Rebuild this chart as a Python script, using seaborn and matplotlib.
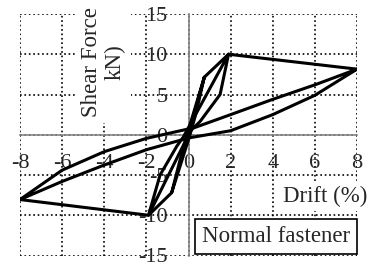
import numpy as np
import pandas as pd
import seaborn as sns
import matplotlib
matplotlib.use("Agg")
import matplotlib.pyplot as plt

# hysteresis branches (drift %, shear force kN)
cycle1_x = [0, 0.75, 0.35, 0.05, -0.8, -0.35, -0.05, 0.75]
cycle1_y = [0, 7.15, 2.6, -0.2, -7.2, -2.6, 0.2, 7.15]

cycle2_x = [0.75, 1.9, 1.5, 0.55, 0.1, -1.9, -1.35, -0.55, -0.25, 1.9]
cycle2_y = [7.15, 10, 5.0, 1.65, 0.5, -10, -5.0, -1.4, -0.3, 10]

neg_env_x = [-0.8, -1.9, -8]
neg_env_y = [-7.2, -10, -8.05]

cycle8_x = [1.9, 8, 6, 4, 2, 0.3, -2, -4, -6, -8, -6, -4, -2, 0, 2, 4, 6, 8]
cycle8_y = [10, 8.15, 6.2, 4.4, 2.5, 0.9, -0.45, -2.1, -4.4, -8.05,
            -5.8, -3.76, -1.86, -0.4, 0.5, 2.5, 4.9, 8.15]

x_ticks = [-8, -6, -4, -2, 0, 2, 4, 6, 8]
y_ticks = [-15, -10, -5, 0, 5, 10, 15]

branches = [(cycle1_x, cycle1_y), (cycle2_x, cycle2_y),
            (neg_env_x, neg_env_y), (cycle8_x, cycle8_y)]
rows = []
for b, (xs, ys) in enumerate(branches):
    for i, (xv, yv) in enumerate(zip(xs, ys)):
        rows.append({"branch": b, "order": i, "drift": xv, "force": yv})
df = pd.DataFrame(rows)

sns.set_style("white")
plt.rcParams["font.family"] = ["Liberation Serif", "DejaVu Serif"]

fig = plt.figure(figsize=(3.72, 2.64), dpi=100)
ax = fig.add_axes([20 / 372, 8.5 / 264, 337 / 372, 241.5 / 264])

sns.lineplot(data=df, x="drift", y="force", units="branch", estimator=None,
             sort=False, color="black", linewidth=2.2, ax=ax, zorder=3)

ax.set_xlim(-8, 8)
ax.set_ylim(-15, 15)
ax.set_xticks(x_ticks)
ax.set_yticks(y_ticks)
ax.set_xticklabels([str(v) for v in x_ticks])
ax.set_yticklabels([str(v) for v in y_ticks])
ax.set_xlabel("")
ax.set_ylabel("")

ax.grid(True, color="black", linestyle=":", linewidth=1.2)
for gl in ax.get_xgridlines() + ax.get_ygridlines():
    gl.set_clip_on(False)

for s in ["top", "right"]:
    ax.spines[s].set_visible(False)
ax.spines["left"].set_position(("data", 0))
ax.spines["bottom"].set_position(("data", 0))
for s in ["left", "bottom"]:
    ax.spines[s].set_color("#888888")
    ax.spines[s].set_linewidth(1.2)
    ax.spines[s].set_zorder(2.5)

ax.tick_params(axis="both", length=0, labelsize=16)
ax.tick_params(axis="y", pad=15)
ax.tick_params(axis="x", pad=14)

ax.text(-4.06, 9.0, "Shear Force\nkN)", rotation=90, ha="center", va="center",
        fontsize=16.5, linespacing=1.15, zorder=4,
        bbox=dict(facecolor="white", edgecolor="none", pad=4))
ax.text(6.48, -7.68, "Drift (%)", ha="center", va="center", fontsize=16.5,
        zorder=4, clip_on=False,
        bbox=dict(facecolor="white", edgecolor="none", pad=3))
ax.text(4.15, -12.6, "Normal fastener", ha="center", va="center",
        fontsize=16.5, zorder=5,
        bbox=dict(boxstyle="square,pad=0.3", facecolor="white",
                  edgecolor="black", linewidth=1.2))

fig.savefig("out.png", dpi=100)
